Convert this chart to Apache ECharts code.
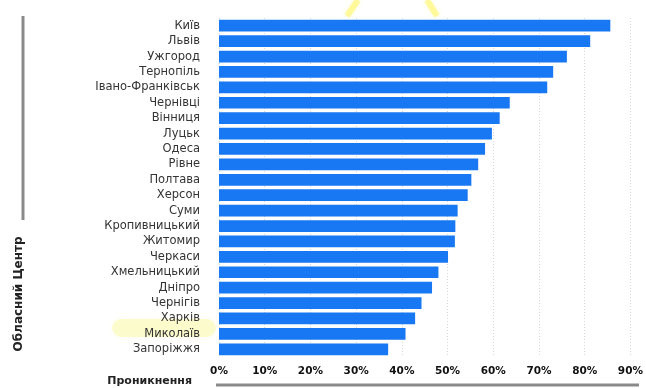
<!DOCTYPE html>
<html><head><meta charset="utf-8">
<script src="https://cdn.jsdelivr.net/npm/echarts@6/dist/echarts.min.js"></script>
<style>html,body{margin:0;padding:0;background:#fff}#c{width:646px;height:388px}</style>
</head><body><div id="c"></div>
<script>
const categories = ["Київ","Львів","Ужгород","Тернопіль","Івано-Франківськ","Чернівці","Вінниця","Луцьк","Одеса","Рівне","Полтава","Херсон","Суми","Кропивницький","Житомир","Черкаси","Хмельницький","Дніпро","Чернігів","Харків","Миколаїв","Запоріжжя"];
const values = [85.6,81.2,76.1,73.1,71.8,63.6,61.4,59.7,58.2,56.7,55.2,54.4,52.2,51.7,51.6,50.1,48.0,46.6,44.3,42.9,40.8,37.0];
const xTicks = [0,10,20,30,40,50,60,70,80,90];
const yTitle = "Обласний Центр";
const xTitle = "Проникнення";

const chart = echarts.init(document.getElementById('c'));
chart.setOption({
  backgroundColor:'#fff',
  animation:false,
  grid:{left:219,right:15,top:18,bottom:31,containLabel:false},
  xAxis:{type:'value',min:xTicks[0],max:xTicks[xTicks.length-1],interval:10,
    axisLine:{show:false},axisTick:{show:false},
    splitLine:{show:true,lineStyle:{color:'#d6d6d6',type:[1,2],width:1}},
    axisLabel:{formatter:v=>v+'%',color:'#111',fontFamily:'DejaVu Sans',fontWeight:'bold',fontSize:10.5,margin:9}
  },
  yAxis:{type:'category',data:categories,inverse:true,
    axisLine:{show:false},axisTick:{show:false},
    axisLabel:{interval:0,color:'#333',fontFamily:'DejaVu Sans',fontSize:11.5,margin:19}
  },
  series:[{type:'bar',data:values,barCategoryGap:'24%',itemStyle:{color:'#1877F2'}}],
  graphic:[
    {type:'line',shape:{x1:23,y1:16,x2:23,y2:220},style:{stroke:'#8a8a8a',lineWidth:3}},
    {type:'text',x:19,y:294,rotation:Math.PI/2,style:{text:yTitle,fill:'#222',font:'bold 12px "DejaVu Sans"',textAlign:'center',textVerticalAlign:'middle'}},
    {type:'line',shape:{x1:216,y1:385,x2:639,y2:385},style:{stroke:'#8a8a8a',lineWidth:3}},
    {type:'text',x:192,y:381,style:{text:xTitle,fill:'#222',font:'bold 11px "DejaVu Sans"',textAlign:'right',textVerticalAlign:'middle'}},
    {type:'line',shape:{x1:347,y1:16,x2:358,y2:0},style:{stroke:'rgba(255,245,90,0.5)',lineWidth:6,shadowBlur:4,shadowColor:'rgba(255,245,90,0.6)'}},
    {type:'line',shape:{x1:427,y1:0,x2:437,y2:16},style:{stroke:'rgba(255,245,90,0.5)',lineWidth:6,shadowBlur:4,shadowColor:'rgba(255,245,90,0.6)'}},
    {type:'rect',shape:{x:112,y:319,width:104,height:18,r:9},style:{fill:'rgba(250,245,120,0.3)',shadowBlur:6,shadowColor:'rgba(250,245,120,0.4)'},z:-1}
  ]
});
</script></body></html>
